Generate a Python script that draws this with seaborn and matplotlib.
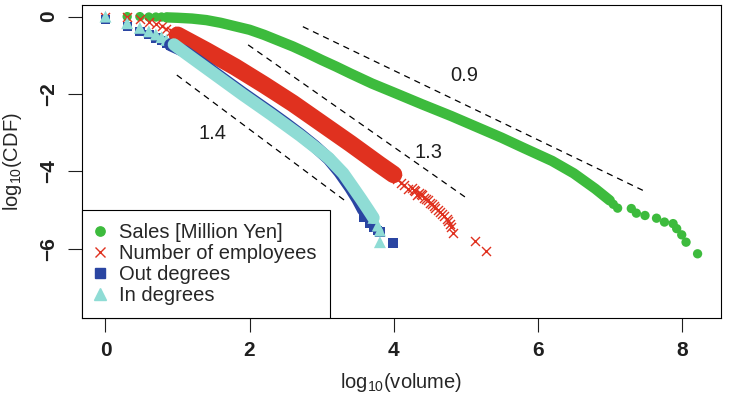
import pandas as pd
import matplotlib.pyplot as plt
import seaborn as sns
from matplotlib.lines import Line2D

# values, both axes already log10
# sales [million yen]
sales_pts_x = [0.301, 0.477, 0.602, 0.699, 0.778, 0.845,
               7.05, 7.11, 7.30, 7.37, 7.49, 7.65, 7.76, 7.88, 7.93, 8.00, 8.06, 8.22]
sales_pts_y = [0.0, 0.0, -0.01, -0.01, -0.01, -0.02,
               -4.85, -4.95, -4.96, -5.08, -5.14, -5.21, -5.31, -5.35, -5.48, -5.64, -5.83, -6.13]
sales_band_x = [0.85, 1.0, 1.2, 1.4, 1.6, 1.8, 2.0, 2.2, 2.4, 2.6, 2.8, 3.0, 3.2, 3.4,
                3.7, 4.0, 4.4, 4.8, 5.2, 5.5, 5.8, 6.2, 6.5, 6.8, 7.0]
sales_band_y = [-0.02, -0.03, -0.05, -0.09, -0.16, -0.25, -0.34, -0.47, -0.62, -0.77, -0.94,
                -1.12, -1.29, -1.47, -1.73, -1.96, -2.27, -2.57, -2.89, -3.13, -3.39, -3.73,
                -4.05, -4.45, -4.75]

# number of employees
empl_pts_x = [0.0, 0.301, 0.477, 0.602, 0.699, 0.778, 0.845, 0.903, 0.954, 1.0,
              4.05, 4.10, 4.15, 4.20, 4.25, 4.28, 4.30, 4.33, 4.35, 4.38, 4.40, 4.42, 4.45,
              4.48, 4.51, 4.53, 4.56, 4.58, 4.62, 4.64, 4.67, 4.70, 4.74, 4.76, 4.78, 4.80,
              4.83, 5.13, 5.28]
empl_pts_y = [0.0, -0.02, -0.07, -0.13, -0.19, -0.25, -0.33, -0.38, -0.43, -0.48,
              -4.20, -4.30, -4.35, -4.45, -4.42, -4.48, -4.50, -4.60, -4.55, -4.58, -4.62,
              -4.70, -4.72, -4.75, -4.83, -4.85, -4.90, -4.95, -5.00, -5.05, -5.10, -5.15,
              -5.22, -5.28, -5.35, -5.44, -5.60, -5.79, -6.06]
empl_band_x = [1.0, 1.2, 1.4, 1.6, 1.8, 2.0, 2.2, 2.4, 2.6, 2.8, 3.0, 3.2, 3.4, 3.6, 3.8,
               4.0]
empl_band_y = [-0.48, -0.68, -0.88, -1.09, -1.30, -1.53, -1.76, -2.00, -2.24, -2.50, -2.76,
               -3.02, -3.28, -3.55, -3.82, -4.08]

# out degrees
out_pts_x = [0.0, 0.301, 0.477, 0.602, 0.699, 0.778, 0.845, 0.903,
             3.58, 3.62, 3.67, 3.72, 3.78, 3.81, 3.99]
out_pts_y = [-0.08, -0.26, -0.38, -0.47, -0.55, -0.62, -0.68, -0.73,
             -5.18, -5.10, -5.35, -5.45, -5.52, -5.57, -5.85]
out_band_x = [0.9, 1.1, 1.3, 1.5, 1.7, 1.9, 2.1, 2.3, 2.5, 2.7, 2.9, 3.1, 3.25, 3.4, 3.5, 3.58]
out_band_y = [-0.73, -0.90, -1.16, -1.43, -1.70, -1.97, -2.23, -2.49, -2.76, -3.04, -3.34,
              -3.68, -4.02, -4.42, -4.72, -5.00]

# in degrees
in_pts_x = [0.0, 0.301, 0.477, 0.602, 0.699, 0.778, 0.845, 0.903, 0.954,
            3.72, 3.78, 3.81, 3.81]
in_pts_y = [0.0, -0.17, -0.29, -0.38, -0.46, -0.53, -0.60, -0.66, -0.72,
            -5.20, -5.40, -5.53, -5.83]
in_band_x = [0.95, 1.1, 1.3, 1.5, 1.7, 1.9, 2.1, 2.3, 2.5, 2.7, 2.9, 3.1, 3.3, 3.45, 3.55,
             3.65, 3.72]
in_band_y = [-0.72, -0.93, -1.20, -1.47, -1.74, -2.01, -2.27, -2.53, -2.80, -3.07, -3.36,
             -3.66, -4.05, -4.45, -4.72, -5.00, -5.20]

# dashed guide slopes
guide_labels = ['0.9', '1.3', '1.4']
guide_x0 = [2.74, 1.98, 0.99]
guide_y0 = [-0.26, -0.73, -1.51]
guide_x1 = [7.46, 4.99, 3.32]
guide_y1 = [-4.49, -4.66, -4.75]
guide_text_x = [4.98, 4.49, 1.49]
guide_text_y = [-1.51, -3.50, -3.02]

green = '#3dbb3d'
red = '#e0311f'
blue = '#2a45a2'
cyan = '#8fdcd5'

sns.set_theme(style='ticks')
plt.rcParams['font.family'] = ['Liberation Sans', 'DejaVu Sans']
plt.rcParams['mathtext.fontset'] = 'custom'
plt.rcParams['mathtext.rm'] = 'Liberation Sans'

fig = plt.figure(figsize=(7.33, 3.98), dpi=100)
ax = fig.add_axes([0.1115, 0.2, 0.8726, 0.7874])

series = [
    (sales_band_x, sales_band_y, sales_pts_x, sales_pts_y, green, 'o', 45, 7.5),
    (empl_band_x, empl_band_y, empl_pts_x, empl_pts_y, red, 'x', 42, 12.5),
    (out_band_x, out_band_y, out_pts_x, out_pts_y, blue, 's', 45, 9.0),
    (in_band_x, in_band_y, in_pts_x, in_pts_y, cyan, '^', 74, 9.0),
]
for bx, by, px, py, col, mk, sz, lw in series:
    band = pd.DataFrame({'x': bx, 'y': by})
    sns.lineplot(data=band, x='x', y='y', sort=False, estimator=None, color=col,
                 linewidth=lw, solid_capstyle='round', ax=ax)
    pts = pd.DataFrame({'x': px, 'y': py})
    if mk == 'x':
        sns.scatterplot(data=pts, x='x', y='y', marker='x', color=col, s=sz,
                        linewidth=1.0, ax=ax)
    else:
        sns.scatterplot(data=pts, x='x', y='y', marker=mk, color=col, s=sz,
                        edgecolor='none', ax=ax)

for i in range(len(guide_labels)):
    ax.plot([guide_x0[i], guide_x1[i]], [guide_y0[i], guide_y1[i]], color='black',
            lw=0.9, linestyle=(0, (5, 4)))
    ax.text(guide_text_x[i], guide_text_y[i], guide_labels[i], fontsize=14.5,
            ha='center', va='center', color='#1f1f1f')

ax.set_xlim(-0.33, 8.55)
ax.set_ylim(-7.8, 0.3)
ax.set_xticks([0, 2, 4, 6, 8])
ax.set_yticks([0, -2, -4, -6])
ax.tick_params(direction='out', length=10, width=0.8, labelsize=15, colors='#1f1f1f')
ax.tick_params(axis='x', pad=6)
ax.tick_params(axis='y', pad=7)
for t in ax.get_xticklabels():
    t.set_fontweight('bold')
for t in ax.get_yticklabels():
    t.set_fontweight('bold')
    t.set_rotation(90)
    t.set_va('center')
for sp in ax.spines.values():
    sp.set_linewidth(0.8)
    sp.set_color('black')

ax.set_xlabel(r'$\mathregular{log_{10}(volume)}$', fontsize=14.5, labelpad=8)
ax.set_ylabel(r'$\mathregular{log_{10}(CDF)}$', fontsize=14.5)
ax.yaxis.set_label_coords(-0.090, 0.5)

handles = [
    Line2D([], [], ls='none', marker='o', color=green, markersize=6.7),
    Line2D([], [], ls='none', marker='x', color=red, markersize=6.5, markeredgewidth=1.0),
    Line2D([], [], ls='none', marker='s', color=blue, markersize=6.7),
    Line2D([], [], ls='none', marker='^', color=cyan, markersize=8.6),
]
labels = ['Sales [Million Yen]', 'Number of employees', 'Out degrees', 'In degrees']
leg = ax.legend(handles, labels, loc='lower left', bbox_to_anchor=(0, 0),
                borderaxespad=0, fontsize=14.5, frameon=True, fancybox=False,
                borderpad=0.65, handlelength=0.5, handletextpad=0.7, labelspacing=0.1)
leg.get_frame().set_edgecolor('black')
leg.get_frame().set_linewidth(0.8)
leg.get_frame().set_facecolor('white')
leg.get_frame().set_alpha(1)

fig.savefig('out.png', dpi=100)
